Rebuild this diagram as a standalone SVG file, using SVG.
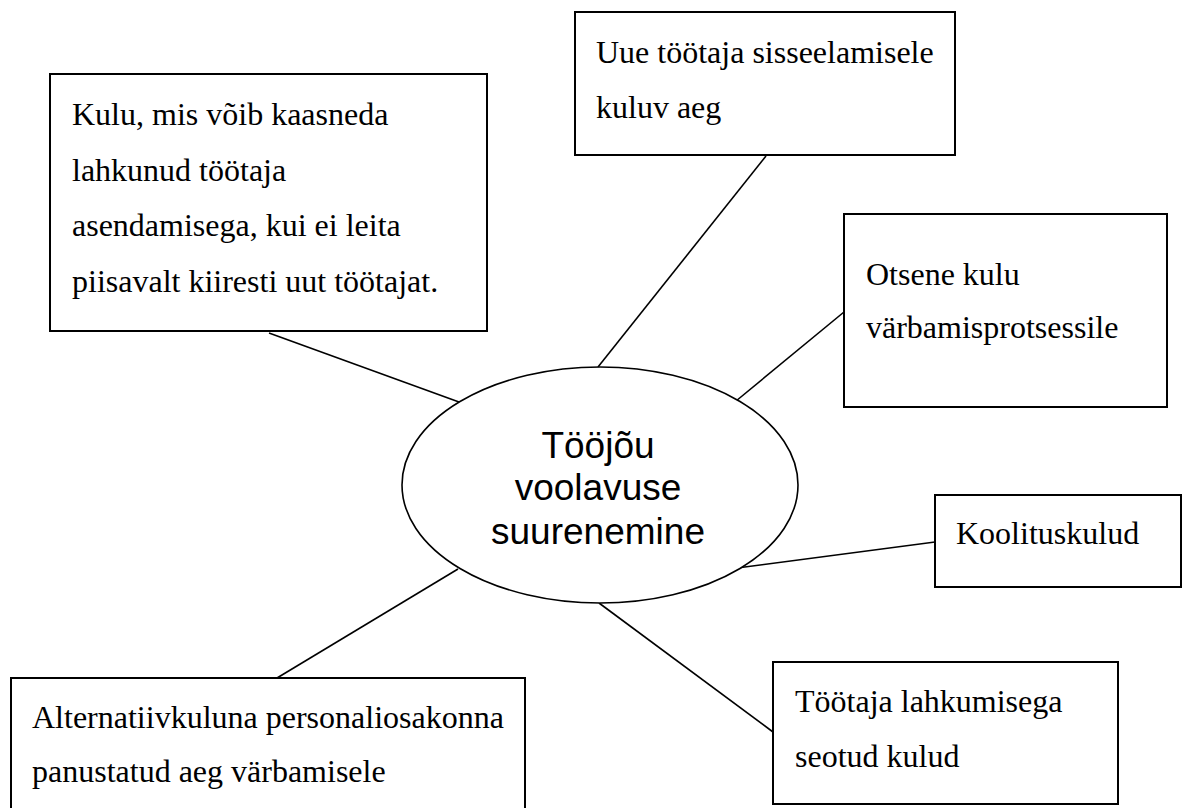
<svg xmlns="http://www.w3.org/2000/svg" width="1183" height="808" viewBox="0 0 1183 808">
<style>
.box{fill:#fff;stroke:#000;stroke-width:2}
.t{font-family:"Liberation Serif","Times New Roman",serif;font-size:32px;fill:#000}
.c{font-family:"Liberation Sans",Arial,sans-serif;font-size:37px;fill:#000;text-anchor:middle}
.ln{stroke:#000;stroke-width:1.6;fill:none}
</style>
<rect width="1183" height="808" fill="#fff"/>
<g id="connectors">
<line class="ln" x1="269" y1="333" x2="459" y2="402"/>
<line class="ln" x1="766" y1="156" x2="598" y2="367"/>
<line class="ln" x1="844" y1="312" x2="736" y2="401"/>
<line class="ln" x1="737" y1="568" x2="935" y2="542"/>
<line class="ln" x1="599" y1="603" x2="773" y2="732"/>
<line class="ln" x1="458" y1="569" x2="277" y2="678"/>
</g>
<g id="center">
<ellipse cx="600" cy="485" rx="198" ry="118" fill="#fff" stroke="#000" stroke-width="1.6"/>
<text class="c" x="598" y="458">Tööjõu</text>
<text class="c" x="598" y="500">voolavuse</text>
<text class="c" x="598" y="544">suurenemine</text>
</g>
<g id="n1">
<rect class="box" x="50" y="74" width="437" height="257"/>
<text class="t" x="72" y="125">Kulu, mis võib kaasneda</text>
<text class="t" x="72" y="181">lahkunud töötaja</text>
<text class="t" x="72" y="236">asendamisega, kui ei leita</text>
<text class="t" x="72" y="292">piisavalt kiiresti uut töötajat.</text>
</g>
<g id="n2">
<rect class="box" x="575" y="12" width="380" height="143"/>
<text class="t" x="596" y="63">Uue töötaja sisseelamisele</text>
<text class="t" x="596" y="118">kuluv aeg</text>
</g>
<g id="n3">
<rect class="box" x="844" y="214" width="323" height="193"/>
<text class="t" x="866" y="285">Otsene kulu</text>
<text class="t" x="866" y="338">värbamisprotsessile</text>
</g>
<g id="n4">
<rect class="box" x="935" y="495" width="246" height="92"/>
<text class="t" x="956" y="544">Koolituskulud</text>
</g>
<g id="n5">
<rect class="box" x="773" y="662" width="345" height="142"/>
<text class="t" x="795" y="712">Töötaja lahkumisega</text>
<text class="t" x="795" y="767">seotud kulud</text>
</g>
<g id="n6">
<rect class="box" x="11" y="678" width="514" height="140"/>
<text class="t" x="32" y="728">Alternatiivkuluna personaliosakonna</text>
<text class="t" x="32" y="782">panustatud aeg värbamisele</text>
</g>
</svg>
